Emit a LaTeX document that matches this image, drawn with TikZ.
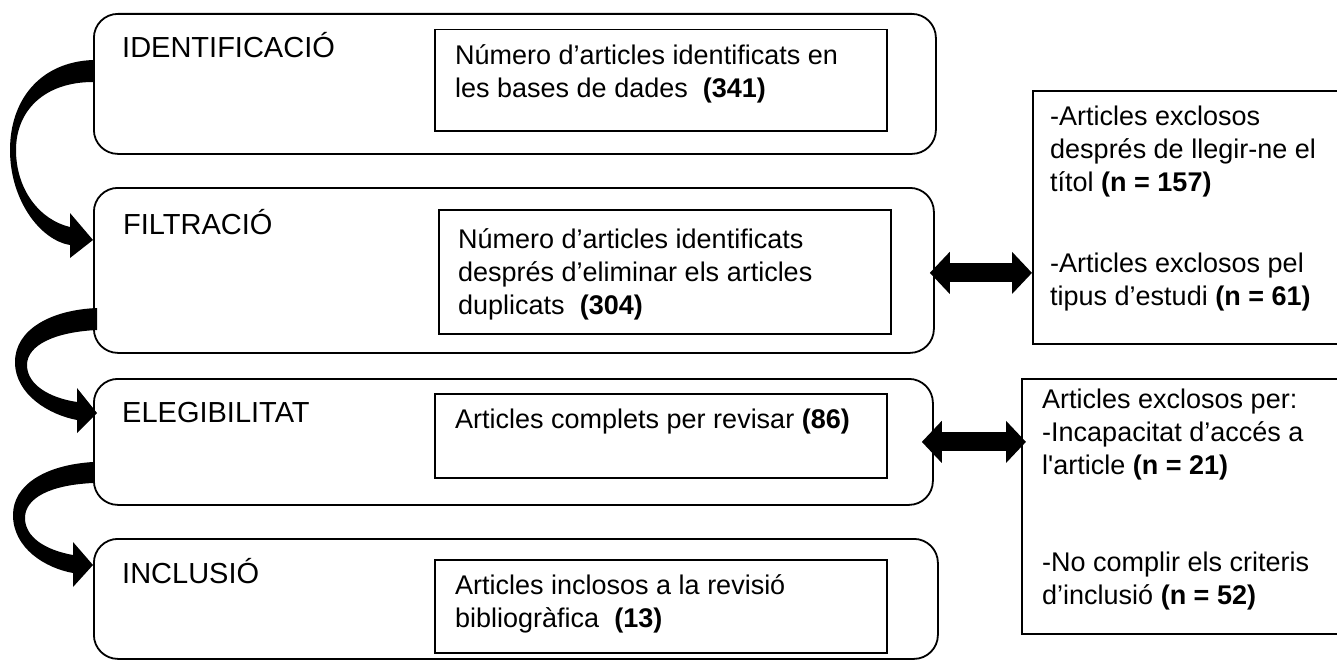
\documentclass[tikz,border=0pt]{standalone}
\usepackage{fontspec}
\setmainfont{Liberation Sans}
\usetikzlibrary{arrows.meta}
\begin{document}
\begin{tikzpicture}[x=1pt,y=-1pt,
  stage/.style={draw, line width=1.8pt, rounded corners=24pt, anchor=north west, inner sep=0pt},
  inbox/.style={draw, line width=1.5pt, anchor=north west, inner sep=0pt},
  sidebox/.style={draw, line width=1.8pt, anchor=north west, inner sep=0pt},
  lbl/.style={anchor=base west, inner sep=0pt, font=\fontsize{29}{33}\selectfont},
  txt/.style={anchor=base west, inner sep=0pt, align=left, font=\fontsize{27}{33}\selectfont},
  bigarrow/.style={fill=black, draw=none},
  dblarrow/.style={line width=19pt, {Triangle[length=20pt,width=41pt]}-{Triangle[length=20pt,width=41pt]}}
]
\useasboundingbox (0,0) rectangle (1337,666);

% stage boxes
\node[stage, minimum width=842pt, minimum height=140pt] (b1) at (93,13) {};
\node[stage, minimum width=840pt, minimum height=165pt] (b2) at (93,187) {};
\node[stage, minimum width=839pt, minimum height=126pt] (b3) at (93,378) {};
\node[stage, minimum width=844pt, minimum height=120pt] (b4) at (93,538) {};

% inner boxes
\node[inbox, minimum width=452pt, minimum height=101pt] (i1) at (434,29) {};
\node[inbox, minimum width=452pt, minimum height=124pt] (i2) at (438,209) {};
\node[inbox, minimum width=452pt, minimum height=84pt] (i3) at (434,393) {};
\node[inbox, minimum width=452pt, minimum height=93pt] (i4) at (434,559) {};

% side boxes
\node[sidebox, minimum width=310pt, minimum height=253pt] (rA) at (1032,90) {};
\node[sidebox, minimum width=320pt, minimum height=255pt] (rB) at (1021,378) {};

% labels
\node[lbl] (l1) at (122,58) {IDENTIFICACIÓ};
\node[lbl] (l2) at (123,234) {FILTRACIÓ};
\node[lbl] (l3) at (122,422) {ELEGIBILITAT};
\node[lbl] (l4) at (122,583) {INCLUSIÓ};

% texts (anchor = baseline of last line)
\node[txt] (t1) at (455,98) {Número d’articles identificats en\\les bases de dades\ \ \textbf{(341)}};
\node[txt] (t2) at (458,314) {Número d’articles identificats\\després d’eliminar els articles\\duplicats\ \ \textbf{(304)}};
\node[txt] (t3) at (455,428) {Articles complets per revisar \textbf{(86)}};
\node[txt] (t4) at (455,627) {Articles inclosos a la revisió\\bibliogràfica\ \ \textbf{(13)}};
\node[txt] (tA1) at (1050,191) {-Articles exclosos\\després de llegir-ne el\\títol \textbf{(n = 157)}};
\node[txt] (tA2) at (1050,305) {-Articles exclosos pel\\tipus d’estudi \textbf{(n = 61)}};
\node[txt] (tB1) at (1042,474) {Articles exclosos per:\\-Incapacitat d’accés a\\l\textquotesingle article \textbf{(n = 21)}};
\node[txt] (tB2) at (1042,604) {-No complir els criteris\\d’inclusió \textbf{(n = 52)}};

% curved arrows
\fill[bigarrow] (93,60) .. controls (40,62) and (10,100) .. (10,150)
  .. controls (10,200) and (40,240) .. (70,245)
  -- (70,258) -- (93,240) -- (70,213) -- (70,227)
  .. controls (40,220) and (16,190) .. (16,150)
  .. controls (16,110) and (45,82) .. (93,82) -- cycle;
\fill[bigarrow] (97,308) .. controls (50,310) and (15,330) .. (15,362)
  .. controls (15,395) and (50,415) .. (77,420)
  -- (77,433) -- (97,413) -- (77,388) -- (77,402)
  .. controls (50,398) and (27,385) .. (27,365)
  .. controls (27,345) and (55,332) .. (97,330) -- cycle;
\fill[bigarrow] (93,462) .. controls (45,465) and (13,485) .. (13,515)
  .. controls (13,548) and (45,568) .. (73,573)
  -- (73,587) -- (93,565) -- (73,542) -- (73,555)
  .. controls (45,550) and (25,537) .. (25,518)
  .. controls (25,498) and (50,485) .. (93,483) -- cycle;

% double arrows
\draw[dblarrow] ([xshift=-5pt,yshift=-2.5pt]b2.east) -- ([yshift=-2.5pt]b2.east -| rA.west);
\draw[dblarrow] ([xshift=-12pt]b3.east) -- ([xshift=5pt]b3.east -| rB.west);
\end{tikzpicture}
\end{document}
